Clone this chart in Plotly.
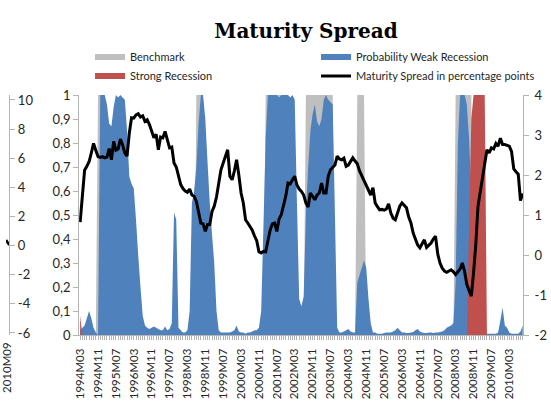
import pandas as pd
import plotly.graph_objects as go

# Monthly sample, 1994M03 .. 2010M09
months = [f"{p.year}M{p.month:02d}" for p in pd.period_range("1994-03", "2010-09", freq="M")]

x_tick_labels = [
    "1994M03", "1994M11", "1995M07", "1996M03", "1996M11", "1997M07", "1998M03",
    "1998M11", "1999M07", "2000M03", "2000M11", "2001M07", "2002M03", "2002M11",
    "2003M07", "2004M03", "2004M11", "2005M07", "2006M03", "2006M11", "2007M07",
    "2008M03", "2008M11", "2009M07", "2010M03",
]

# Maturity spread, percentage points (right axis)
spread = [
    0.82, 1.45, 2.12, 2.22, 2.33, 2.55, 2.79, 2.62, 2.46, 2.44,
    2.46, 2.43, 2.45, 2.66, 2.38, 2.84, 2.62, 2.65, 2.90, 2.75,
    2.55, 2.47, 3.05, 3.43, 3.42, 3.50, 3.53, 3.45, 3.48, 3.34,
    3.38, 3.26, 3.10, 2.93, 3.02, 2.63, 2.95, 2.93, 3.09, 2.85,
    2.68, 2.70, 2.30, 2.20, 1.98, 1.76, 1.66, 1.60, 1.57, 1.65,
    1.50, 1.47, 1.34, 1.05, 0.80, 0.78, 0.59, 0.76, 0.76, 1.09,
    1.22, 1.45, 1.85, 2.13, 2.30, 2.45, 2.63, 1.97, 1.88, 2.10,
    2.38, 2.00, 1.55, 1.30, 0.88, 0.80, 0.72, 0.62, 0.48, 0.36,
    0.08, 0.05, 0.09, 0.08, 0.35, 0.62, 0.78, 0.80, 0.59, 0.90,
    1.01, 1.25, 1.47, 1.80, 1.78, 1.88, 1.97, 1.75, 1.65, 1.59,
    1.50, 1.30, 1.20, 1.55, 1.45, 1.38, 1.50, 1.55, 1.80, 1.55,
    1.55, 1.97, 2.13, 2.20, 2.25, 2.47, 2.40, 2.38, 2.42, 2.22,
    2.25, 2.34, 2.43, 2.35, 2.28, 2.10, 1.98, 1.86, 1.75, 1.63,
    1.50, 1.68, 1.30, 1.21, 1.13, 1.14, 1.12, 1.15, 1.28, 1.05,
    0.92, 0.88, 1.05, 1.22, 1.30, 1.25, 1.18, 0.95, 0.80, 0.55,
    0.38, 0.25, 0.18, 0.30, 0.38, 0.19, 0.25, 0.30, 0.40, 0.47,
    0.02, -0.20, -0.33, -0.40, -0.43, -0.40, -0.37, -0.42, -0.49, -0.42,
    -0.35, -0.20, -0.41, -0.74, -0.90, -1.03, -0.45, 0.26, 1.22, 1.60,
    1.95, 2.25, 2.63, 2.55, 2.68, 2.65, 2.79, 2.72, 2.92, 2.76,
    2.76, 2.74, 2.72, 2.59, 2.15, 2.08, 2.02, 1.36, 1.54,
]

# Probability of a weak recession (left axis)
prob_weak = [
    0.02, 0.03, 0.04, 0.07, 0.10, 0.07, 0.03, 0.01, 0.00, 1.00,
    1.00, 1.00, 0.96, 0.88, 0.87, 0.95, 1.00, 0.99, 1.00, 0.99,
    0.98, 0.85, 0.66, 0.63, 0.61, 0.48, 0.33, 0.20, 0.08, 0.04,
    0.03, 0.025, 0.03, 0.035, 0.03, 0.025, 0.02, 0.02, 0.035, 0.02,
    0.025, 0.05, 0.51, 0.48, 0.03, 0.02, 0.01, 0.01, 0.02, 0.10,
    0.55, 0.60, 0.70, 0.88, 1.00, 1.00, 0.90, 0.72, 0.55, 0.42,
    0.30, 0.10, 0.02, 0.01, 0.01, 0.01, 0.01, 0.01, 0.015, 0.02,
    0.04, 0.015, 0.01, 0.01, 0.005, 0.01, 0.01, 0.015, 0.02, 0.02,
    0.03, 0.10, 0.45, 0.82, 1.00, 1.00, 1.00, 1.00, 1.00, 0.99,
    1.00, 1.00, 1.00, 1.00, 0.99, 1.00, 0.98, 0.55, 0.15, 0.12,
    0.16, 0.50, 0.70, 0.85, 0.92, 0.96, 0.89, 0.87, 0.90, 0.98,
    1.00, 0.98, 0.97, 0.96, 0.50, 0.03, 0.01, 0.01, 0.015, 0.02,
    0.025, 0.015, 0.01, 0.01, 0.22, 0.25, 0.28, 0.31, 0.28, 0.15,
    0.05, 0.01, 0.01, 0.005, 0.005, 0.005, 0.008, 0.01, 0.01, 0.01,
    0.015, 0.02, 0.03, 0.02, 0.01, 0.01, 0.008, 0.008, 0.01, 0.012,
    0.02, 0.025, 0.015, 0.01, 0.008, 0.008, 0.01, 0.01, 0.008, 0.01,
    0.01, 0.012, 0.015, 0.02, 0.03, 0.035, 0.04, 0.05, 0.22, 0.80,
    1.00, 1.00, 1.00, 0.96, 0.82, 0.60, 0.30, 0.10, 0.03, 0.01,
    0.01, 0.01, 0.005, 0.005, 0.005, 0.005, 0.005, 0.01, 0.06, 0.115,
    0.04, 0.03, 0.01, 0.005, 0.005, 0.005, 0.005, 0.015, 0.04,
]

# Probability of a strong recession (left axis)
prob_strong = [
    0.08, 0, 0, 0, 0, 0, 0, 0, 0, 0, 0, 0, 0, 0, 0, 0, 0, 0, 0, 0,
    0, 0, 0, 0, 0, 0, 0, 0, 0, 0, 0, 0, 0, 0, 0, 0, 0, 0, 0, 0,
    0, 0, 0, 0, 0, 0, 0, 0, 0, 0, 0, 0, 0, 0, 0, 0, 0, 0, 0, 0,
    0, 0, 0, 0, 0, 0, 0, 0, 0, 0, 0, 0, 0, 0, 0, 0, 0, 0, 0, 0,
    0, 0, 0, 0, 0, 0, 0, 0, 0, 0, 0, 0, 0, 0, 0, 0, 0, 0, 0, 0,
    0, 0, 0, 0, 0, 0, 0, 0, 0, 0, 0, 0, 0, 0, 0, 0, 0, 0, 0, 0,
    0, 0, 0, 0, 0, 0, 0, 0, 0, 0, 0, 0, 0, 0, 0, 0, 0, 0, 0, 0,
    0, 0, 0, 0, 0, 0, 0, 0, 0, 0, 0, 0, 0, 0, 0, 0, 0, 0, 0, 0,
    0, 0, 0, 0, 0, 0, 0, 0, 0, 0, 0, 0, 0, 0, 0.45, 0.9, 1, 1, 1, 1,
    1, 1, 0, 0, 0, 0, 0, 0, 0, 0, 0, 0, 0, 0, 0, 0, 0, 0, 0,
]

# Benchmark recession dating (1 = recession month)
benchmark = [
    0, 0, 0, 0, 0, 0, 0, 0, 1, 1, 1, 0, 0, 0, 0, 0, 0, 0, 0, 0,
    0, 0, 0, 0, 0, 0, 0, 0, 0, 0, 0, 0, 0, 0, 0, 0, 0, 0, 0, 0,
    0, 0, 0, 0, 0, 0, 0, 0, 0, 0, 0, 0, 1, 1, 1, 0, 0, 0, 0, 0,
    0, 0, 0, 0, 0, 0, 0, 0, 0, 0, 0, 0, 0, 0, 0, 0, 0, 0, 0, 0,
    0, 0, 0, 1, 1, 1, 1, 1, 1, 1, 1, 1, 1, 0, 0, 0, 0, 0, 0, 0,
    0, 1, 1, 1, 1, 1, 1, 1, 1, 1, 1, 1, 1, 1, 0, 0, 0, 0, 0, 0,
    0, 0, 0, 0, 1, 1, 1, 1, 0, 0, 0, 0, 0, 0, 0, 0, 0, 0, 0, 0,
    0, 0, 0, 0, 0, 0, 0, 0, 0, 0, 0, 0, 0, 0, 0, 0, 0, 0, 0, 0,
    0, 0, 0, 0, 0, 0, 0, 0, 1, 1, 1, 1, 1, 1, 1, 1, 0, 0, 0, 0,
    0, 0, 0, 0, 0, 0, 0, 0, 0, 0, 0, 0, 0, 0, 0, 0, 0, 0, 0,
]

left_ticks = [0, 0.1, 0.2, 0.3, 0.4, 0.5, 0.6, 0.7, 0.8, 0.9, 1.0]
left_tick_labels = ["0", "0,1", "0,2", "0,3", "0,4", "0,5", "0,6", "0,7", "0,8", "0,9", "1"]
right_ticks = [-2, -1, 0, 1, 2, 3, 4]
right_tick_labels = ["-2", "-1", "0", "1", "2", "3", "4"]

# Right edge of the neighbouring panel
prev_ticks = [-6, -4, -2, 0, 2, 4, 6, 8, 10]
prev_tick_labels = ["-6", "-4", "-2", "0", "2", "4", "6", "8", "10"]
prev_tail_x = [0.0, 1.0]
prev_tail = [0.38, 0.04]
prev_last_label = "2010M09"

idx = list(range(len(months)))
tickvals = [months.index(m) for m in x_tick_labels]

AXIS_GREY = "#B4B4B4"
TEXT = "#262626"
FONT = "Lato"

fig = go.Figure()
fig.add_trace(go.Scatter(x=idx, y=benchmark, name="Benchmark", mode="none",
                         fill="tozeroy", fillcolor="#BFBFBF"))
fig.add_trace(go.Scatter(x=idx, y=prob_weak, name="Probability Weak Recession", mode="none",
                         fill="tozeroy", fillcolor="#4F81BD"))
fig.add_trace(go.Scatter(x=idx, y=prob_strong, name="Strong Recession", mode="none",
                         fill="tozeroy", fillcolor="#C0504D"))
fig.add_trace(go.Scatter(x=idx, y=spread, name="Maturity Spread in percentage points",
                         mode="lines", line=dict(color="black", width=3), yaxis="y2"))
fig.add_trace(go.Scatter(x=prev_tail_x, y=prev_tail, mode="lines", showlegend=False,
                         line=dict(color="black", width=2.5), xaxis="x2", yaxis="y3"))

plot_w = 551 - 28
fig.update_layout(
    width=551, height=406,
    margin=dict(l=0, r=28, t=95, b=71),
    paper_bgcolor="white", plot_bgcolor="white",
    font=dict(family=FONT, color=TEXT),
    title=dict(text="<b>Maturity Spread</b>", font=dict(family="DejaVu Serif", size=20, color="black"),
               x=306 / 551, xanchor="center", xref="container",
               y=1 - 31 / 406, yanchor="middle", yref="container"),
    legend=dict(orientation="h", x=85 / plot_w, xanchor="left", y=1.219, yanchor="top",
                entrywidth=181, entrywidthmode="pixels", traceorder="normal",
                font=dict(family=FONT, size=11, color=TEXT), bgcolor="rgba(0,0,0,0)"),
    xaxis=dict(domain=[74 / plot_w, 1], anchor="y", range=[-0.44, 198.13],
               tickmode="array", tickvals=tickvals, ticktext=x_tick_labels, tickangle=-90,
               ticks="outside", ticklen=4, tickcolor=AXIS_GREY, ticklabelstandoff=4,
               minor=dict(tick0=0, dtick=1, ticks="outside", ticklen=4, tickcolor=AXIS_GREY),
               showline=True, linecolor=AXIS_GREY, linewidth=1,
               showgrid=False, zeroline=False,
               tickfont=dict(family=FONT, size=11.5, color=TEXT)),
    yaxis=dict(domain=[0, 1], anchor="x", range=[0, 1],
               tickmode="array", tickvals=left_ticks, ticktext=left_tick_labels,
               ticks="outside", ticklen=5, tickcolor=AXIS_GREY,
               showline=True, linecolor=AXIS_GREY, showgrid=False, zeroline=False,
               tickfont=dict(family=FONT, size=13, color=TEXT)),
    yaxis2=dict(overlaying="y", side="right", anchor="x", range=[-2, 4],
                tickmode="array", tickvals=right_ticks, ticktext=right_tick_labels,
                ticks="outside", ticklen=5, tickcolor=AXIS_GREY, ticklabelstandoff=3,
                showline=True, linecolor=AXIS_GREY, showgrid=False, zeroline=False,
                tickfont=dict(family=FONT, size=13, color=TEXT)),
    xaxis2=dict(domain=[0, 3.3 / plot_w], anchor="y3", range=[0, 1],
                tickmode="array", tickvals=[0.5], ticktext=[prev_last_label], tickangle=-90,
                ticks="", ticklabelstandoff=4, showline=False, showgrid=False, zeroline=False,
                tickfont=dict(family=FONT, size=11.5, color=TEXT)),
    yaxis3=dict(domain=[0, 1], anchor="x2", side="right", range=[-6.14, 10.34],
                tickmode="array", tickvals=prev_ticks, ticktext=prev_tick_labels,
                ticks="outside", ticklen=5, tickcolor=AXIS_GREY,
                showline=True, linecolor=AXIS_GREY, showgrid=False, zeroline=False,
                tickfont=dict(family=FONT, size=13, color=TEXT)),
    showlegend=True,
)

fig.write_html("out.html")
